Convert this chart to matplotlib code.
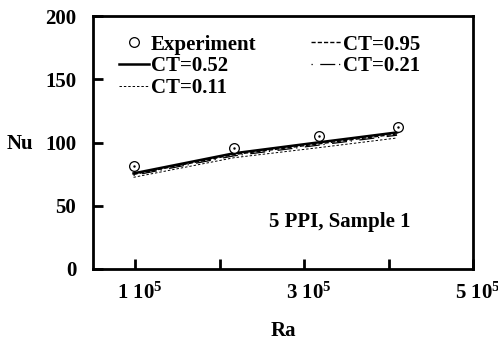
import matplotlib
matplotlib.use("Agg")
import matplotlib.pyplot as plt
from matplotlib.transforms import ScaledTranslation

plt.rcParams['font.family'] = ['Liberation Serif', 'DejaVu Serif']
plt.rcParams['font.weight'] = 'bold'
plt.rcParams['mathtext.fontset'] = 'custom'
plt.rcParams['mathtext.rm'] = 'Liberation Serif:bold'
plt.rcParams['mathtext.bf'] = 'Liberation Serif:bold'
plt.rcParams['mathtext.it'] = 'Liberation Serif:bold'

# Data
ra_exp = [0.98e5, 2.17e5, 3.18e5, 4.11e5]
nu_exp = [81.5, 95.5, 105.0, 112.5]

ra_model = [0.98e5, 2.17e5, 3.18e5, 4.10e5]
nu_ct052 = [75.6, 91.5, 100.2, 108.0]
nu_ct095 = [74.8, 90.5, 99.0, 106.8]
nu_ct021 = [74.0, 89.5, 98.0, 105.8]
nu_ct011 = [72.5, 88.0, 96.0, 103.6]

xticks = [1e5, 2e5, 3e5, 4e5, 5e5]
xticklabels = [r'1 10$^{5}$', '', r'3 10$^{5}$', '', r'5 10$^{5}$']
yticks = [0, 50, 100, 150, 200]

fig = plt.figure(figsize=(4.98, 3.42), dpi=100)
ax = fig.add_axes([0.1867, 0.2135, 0.7633, 0.7395])

h_exp, = ax.plot(ra_exp, nu_exp, linestyle='none', marker='o', markersize=7,
                 markerfacecolor='white', markeredgecolor='black', markeredgewidth=0.9,
                 label='Experiment', zorder=5)
ax.plot(ra_exp, nu_exp, linestyle='none', marker='.', markersize=1.5, color='black', zorder=6)
h52, = ax.plot(ra_model, nu_ct052, color='black', linewidth=1.8, label='CT=0.52')
h95, = ax.plot(ra_model, nu_ct095, color='black', linewidth=1.0, linestyle=(0, (3, 1.5)), label='CT=0.95')
h21, = ax.plot(ra_model, nu_ct021, color='black', linewidth=0.9, linestyle=(0, (1, 6, 12, 3)), label='CT=0.21')
h11, = ax.plot(ra_model, nu_ct011, color='black', linewidth=0.7, linestyle=(0, (2.5, 2)), label='CT=0.11')

ax.set_xlim(0.5e5, 5e5)
ax.set_ylim(0, 200)
ax.set_xticks(xticks)
ax.set_xticklabels(xticklabels)
ax.set_yticks(yticks)
ax.tick_params(axis='both', direction='in', length=7, width=2, labelsize=15, top=False, right=False)
ax.tick_params(axis='x', pad=10)
ax.tick_params(axis='y', pad=12)
for s in ax.spines.values():
    s.set_linewidth(2)
off = ScaledTranslation(5 / 100, 0, fig.dpi_scale_trans)
for lab in ax.get_xticklabels():
    lab.set_transform(lab.get_transform() + off)

ax.set_xlabel('Ra', fontsize=15, fontweight='bold', labelpad=12)
ax.set_ylabel('Nu', fontsize=15, fontweight='bold', rotation=0, ha='right', va='center')
ax.yaxis.set_label_coords(-0.158, 0.495)

ax.legend(handles=[h_exp, h52, h11, h95, h21], ncol=2, frameon=False,
          loc='upper left', bbox_to_anchor=(0.068, 0.927), fontsize=15,
          handlelength=1.45, handletextpad=0.1, columnspacing=2.6, labelspacing=0.08,
          borderaxespad=0.0, borderpad=0.0)

ax.text(0.649, 0.187, '5 PPI, Sample 1', transform=ax.transAxes, fontsize=15,
        fontweight='bold', ha='center', va='center')

fig.savefig('out.png', dpi=100)
